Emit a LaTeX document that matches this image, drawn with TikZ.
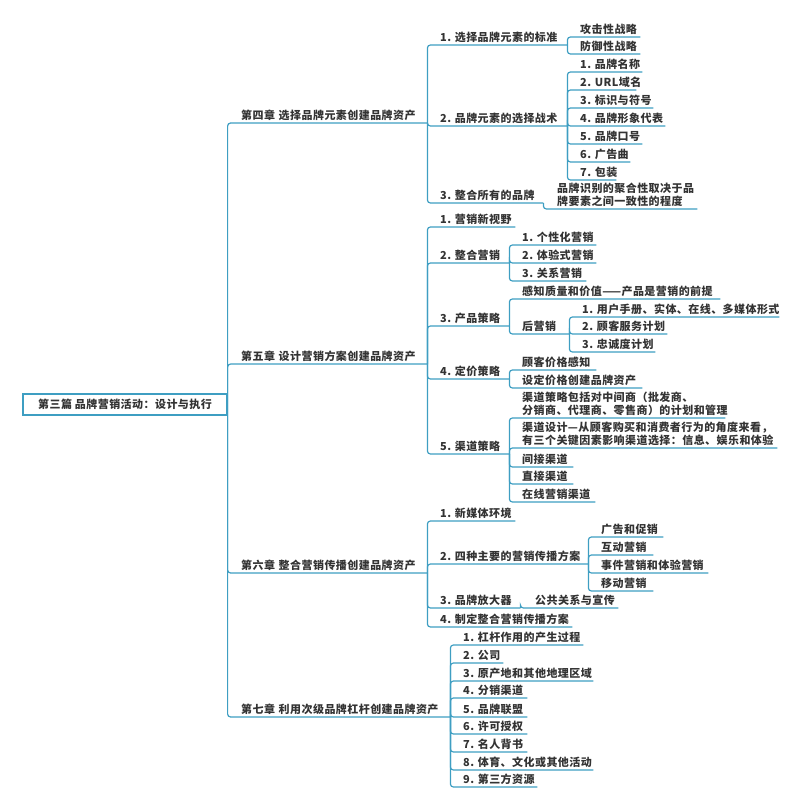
\documentclass[tikz,border=0pt]{standalone}
\usepackage{fontspec}
\newfontfamily\cjk{Noto Sans CJK SC}[LetterSpace=4]
\usepackage{tikz}
\definecolor{linkblue}{HTML}{3E9EC2}
\definecolor{textgray}{HTML}{333333}
\frenchspacing

\begin{document}
\begin{tikzpicture}[x=1pt,y=-1pt,
	link/.style={draw=linkblue,line width=1.2pt,rounded corners=3pt},
	topic/.style={anchor=south west,inner xsep=0pt,inner ysep=2pt,text width=#1,align=left,
		font={\fontsize{11}{13}\selectfont\cjk\bfseries},text=textgray},
	rootbox/.style={draw=linkblue,line width=1.2pt,inner sep=0pt,minimum width=204pt,minimum height=21pt,
		font={\fontsize{11}{13}\selectfont\cjk\bfseries},text=textgray}]
	\useasboundingbox (0,0) rectangle (800,809);
	
	% root and chapters
	\node[rootbox] (part) at (125,404.5) {第三篇 品牌营销活动：设计与执行};
	\node[topic=186] (ch4) at (241,123) {第四章 选择品牌元素创建品牌资产};
	\node[topic=186] (ch5) at (241,364) {第五章 设计营销方案创建品牌资产};
	\node[topic=186] (ch6) at (241,573) {第六章 整合营销传播创建品牌资产};
	\node[topic=209] (ch7) at (241,717) {第七章 利用次级品牌杠杆创建品牌资产};
	\foreach \c in {ch4,ch5,ch6,ch7}
		\draw[link] (part.east) |- (\c.south east);
	
	% chapter 4
	\node[topic=127] (a1) at (440,45) {1.~选择品牌元素的标准};
	\node[topic=127] (a2) at (440,126) {2.~品牌元素的选择战术};
	\node[topic=103] (a3) at (440,203) {3.~整合所有的品牌};
	\node[topic=60] (a11) at (580,37) {攻击性战略};
	\node[topic=60] (a12) at (580,54) {防御性战略};
	\node[topic=62] (a21) at (580,72) {1.~品牌名称};
	\node[topic=56] (a22) at (580,90) {2.~URL域名};
	\node[topic=73] (a23) at (580,108) {3.~标识与符号};
	\node[topic=85] (a24) at (580,126) {4.~品牌形象代表};
	\node[topic=62] (a25) at (580,144) {5.~品牌口号};
	\node[topic=50] (a26) at (580,162) {6.~广告曲};
	\node[topic=36] (a27) at (580,180) {7.~包装};
	\node[topic=140] (a31) at (557,209) {品牌识别的聚合性取决于品\\牌要素之间一致性的程度};
	\foreach \c in {a1,a2,a3}
		\draw[link] (ch4.south east) |- (\c.south east);
	\foreach \c in {a11,a12}
		\draw[link] (a1.south east) |- (\c.south east);
	\foreach \c in {a21,a22,a23,a24,a25,a26,a27}
		\draw[link] (a2.south east) |- (\c.south east);
	\draw[link] (a3.south east) |- (a31.south east);
	
	% chapter 5
	\node[topic=75] (b1) at (440,227) {1.~营销新视野};
	\node[topic=69] (b2) at (440,263) {2.~整合营销};
	\node[topic=69] (b3) at (440,326) {3.~产品策略};
	\node[topic=69] (b4) at (440,379) {4.~定价策略};
	\node[topic=69] (b5) at (440,454) {5.~渠道策略};
	\node[topic=74] (b21) at (522,245) {1.~个性化营销};
	\node[topic=74] (b22) at (522,263) {2.~体验式营销};
	\node[topic=64] (b23) at (522,281) {3.~关系营销};
	\node[topic=198] (b31) at (522,299) {感知质量和价值——产品是营销的前提};
	\node[topic=47] (b32) at (522,334) {后营销};
	\node[topic=197] (b321) at (582,317) {1.~用户手册、实体、在线、多媒体形式};
	\node[topic=85] (b322) at (582,334) {2.~顾客服务计划};
	\node[topic=73] (b323) at (582,352) {3.~忠诚度计划};
	\node[topic=74] (b41) at (522,370) {顾客价格感知};
	\node[topic=120] (b42) at (522,388) {设定价格创建品牌资产};
	\node[topic=203] (b51) at (522,418) {渠道策略包括对中间商（批发商、\\分销商、代理商、零售商）的计划和管理};
	\node[topic=255] (b52) at (522,448) {渠道设计—从顾客购买和消费者行为的角度来看，\\有三个关键因素影响渠道选择：信息、娱乐和体验};
	\node[topic=51] (b53) at (522,467) {间接渠道};
	\node[topic=51] (b54) at (522,484) {直接渠道};
	\node[topic=73] (b55) at (522,502) {在线营销渠道};
	\foreach \c in {b1,b2,b3,b4,b5}
		\draw[link] (ch5.south east) |- (\c.south east);
	\foreach \c in {b21,b22,b23}
		\draw[link] (b2.south east) |- (\c.south east);
	\foreach \c in {b31,b32}
		\draw[link] (b3.south east) |- (\c.south east);
	\foreach \c in {b321,b322,b323}
		\draw[link] (b32.south east) |- (\c.south east);
	\foreach \c in {b41,b42}
		\draw[link] (b4.south east) |- (\c.south east);
	\foreach \c in {b51,b52,b53,b54,b55}
		\draw[link] (b5.south east) |- (\c.south east);
	
	% chapter 6
	\node[topic=75] (d1) at (440,521) {1.~新媒体环境};
	\node[topic=148] (d2) at (440,564) {2.~四种主要的营销传播方案};
	\node[topic=80] (d3) at (440,608) {3.~品牌放大器};
	\node[topic=132] (d4) at (440,627) {4.~制定整合营销传播方案};
	\node[topic=62] (d21) at (601,537) {广告和促销};
	\node[topic=52] (d22) at (601,555) {互动营销};
	\node[topic=107] (d23) at (601,573) {事件营销和体验营销};
	\node[topic=52] (d24) at (601,591) {移动营销};
	\node[topic=83] (d31) at (535,608) {公共关系与宣传};
	\foreach \c in {d1,d2,d3,d4}
		\draw[link] (ch6.south east) |- (\c.south east);
	\foreach \c in {d21,d22,d23,d24}
		\draw[link] (d2.south east) |- (\c.south east);
	\draw[link] (d3.south east) |- (d31.south east);
	
	% chapter 7
	\node[topic=120] (e1) at (463,645) {1.~杠杆作用的产生过程};
	\node[topic=40] (e2) at (463,663) {2.~公司};
	\node[topic=130] (e3) at (463,681) {3.~原产地和其他地理区域};
	\node[topic=64] (e4) at (463,698) {4.~分销渠道};
	\node[topic=64] (e5) at (463,717) {5.~品牌联盟};
	\node[topic=64] (e6) at (463,734) {6.~许可授权};
	\node[topic=64] (e7) at (463,752) {7.~名人背书};
	\node[topic=130] (e8) at (463,770) {8.~体育、文化或其他活动};
	\node[topic=74] (e9) at (463,787) {9.~第三方资源};
	\foreach \c in {e1,e2,e3,e4,e5,e6,e7,e8,e9}
		\draw[link] (ch7.south east) |- (\c.south east);
\end{tikzpicture}
\end{document}
